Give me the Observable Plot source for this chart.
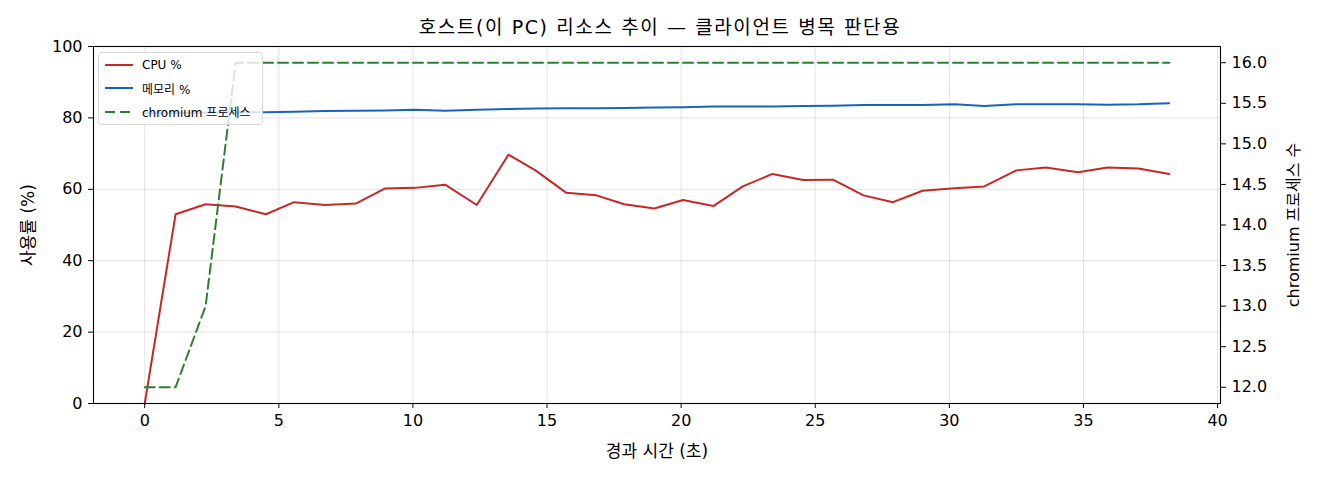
<!DOCTYPE html>
<html><head><meta charset="utf-8">
<script src="https://cdn.jsdelivr.net/npm/d3@7"></script>
<script src="https://cdn.jsdelivr.net/npm/@observablehq/plot@0.6"></script>
<style>
html,body{margin:0;padding:0;background:#fff;}
body{width:1320px;height:480px;position:relative;overflow:hidden;font-family:"DejaVu Sans","Noto Sans CJK KR",sans-serif;}
#title{position:absolute;left:0;top:15px;width:1320px;text-align:center;font-family:"DejaVu Sans","Noto Sans CJK KR",sans-serif;font-size:19px;line-height:24px;letter-spacing:1.6px;color:#000;white-space:nowrap;}
#chart{position:absolute;left:0;top:0;}
#legend{position:absolute;left:98px;top:52px;width:165px;height:73px;box-sizing:border-box;border:1px solid #d9d9d9;border-radius:4px;background:rgba(255,255,255,0.8);font-size:12px;color:#000;}
#legend .row{position:absolute;left:6px;height:16px;display:flex;align-items:center;white-space:nowrap;}
#legend svg{margin-right:9px;}
</style></head>
<body>
<div id="chart"></div>
<div id="title">호스트(이 PC) 리소스 추이 — 클라이언트 병목 판단용</div>
<div id="legend"></div>
<script>
const t = [0.0,1.15,2.27,3.39,4.52,5.57,6.72,7.87,8.95,10.07,11.2,12.38,13.56,14.57,15.72,16.84,17.88,19.0,20.07,21.2,22.3,23.4,24.55,25.66,26.8,27.9,29.0,30.2,31.3,32.5,33.6,34.8,35.9,37.05,38.2];
const cpu = [0,53.0,55.8,55.2,53.0,56.4,55.6,56.0,60.2,60.4,61.3,55.6,69.7,65.3,59.0,58.3,55.8,54.6,57.0,55.3,60.8,64.3,62.6,62.7,58.3,56.4,59.6,60.3,60.8,65.3,66.1,64.8,66.1,65.8,64.3];
const mem = [81.3,81.4,81.5,81.6,81.6,81.7,81.9,82.0,82.1,82.3,82.0,82.3,82.5,82.6,82.7,82.7,82.8,82.9,83.0,83.2,83.2,83.2,83.3,83.4,83.6,83.6,83.6,83.8,83.3,83.8,83.8,83.8,83.7,83.8,84.1];
const chrom = [12,12,13,16,16,16,16,16,16,16,16,16,16,16,16,16,16,16,16,16,16,16,16,16,16,16,16,16,16,16,16,16,16,16,16];
const xTicks = [0,5,10,15,20,25,30,35,40];
const yTicks = [0,20,40,60,80,100];
const y2Ticks = [12.0,12.5,13.0,13.5,14.0,14.5,15.0,15.5,16.0];
const seriesNames = ["CPU %","메모리 %","chromium 프로세스"];
const seriesColors = ["#c62828","#1565c0","#2e7d32"];
const xLabel = "경과 시간 (초)";
const yLabel = "사용률 (%)";
const y2Label = "chromium 프로세스 수";

const toLeft = d3.scaleLinear().domain([11.8,16.2]).range([0,100]);
const rows = t.map((v,i)=>({t:v,cpu:cpu[i],mem:mem[i],chrom:toLeft(chrom[i])}));
const font = '"DejaVu Sans","Noto Sans CJK KR",sans-serif';

const chart = Plot.plot({
  width:1320, height:480,
  marginLeft:93, marginRight:100, marginTop:46, marginBottom:77,
  x:{domain:[-1.91,40.11]},
  y:{domain:[0,100]},
  style:{fontFamily:font, fontSize:"16px", color:"#000", background:"white", overflow:"visible"},
  marks:[
    Plot.gridX(xTicks,{stroke:"#b0b0b0", strokeOpacity:0.35}),
    Plot.gridY(yTicks,{stroke:"#b0b0b0", strokeOpacity:0.35}),
    Plot.line(rows,{x:"t",y:"cpu",stroke:seriesColors[0],strokeWidth:2}),
    Plot.line(rows,{x:"t",y:"mem",stroke:seriesColors[1],strokeWidth:2}),
    Plot.line(rows,{x:"t",y:"chrom",stroke:seriesColors[2],strokeWidth:2,strokeDasharray:"10,5"}),
    Plot.frame({stroke:"#000",strokeWidth:1.1}),
    Plot.axisX(xTicks,{tickSize:5,tickPadding:6,label:null,tickFormat:d=>String(d)}),
    Plot.axisY(yTicks,{anchor:"left",tickSize:5,tickPadding:6,label:null,tickFormat:d=>String(d)}),
    Plot.axisY(y2Ticks.map(toLeft),{anchor:"right",tickSize:5,tickPadding:6,label:null,tickFormat:d=>toLeft.invert(d).toFixed(1)}),
    Plot.text([xLabel],{frameAnchor:"bottom",dy:48,lineAnchor:"middle",textAnchor:"middle",fontSize:17,text:d=>d}),
    Plot.text([yLabel],{frameAnchor:"left",dx:-65,rotate:-90,lineAnchor:"middle",textAnchor:"middle",fontSize:17,text:d=>d}),
    Plot.text([y2Label],{frameAnchor:"right",dx:73,rotate:-90,lineAnchor:"middle",textAnchor:"middle",fontSize:16,text:d=>d})
  ]
});
document.getElementById("chart").appendChild(chart);

const lg = document.getElementById("legend");
seriesNames.forEach((name,i)=>{
  const row = document.createElement("div");
  row.className = "row";
  row.style.top = (4 + i*23.3) + "px";
  const dash = i===2 ? ' stroke-dasharray="10,5"' : '';
  row.innerHTML = `<svg width="28" height="4"><line x1="0" y1="2" x2="28" y2="2" stroke="${seriesColors[i]}" stroke-width="2"${dash}/></svg><span>${name}</span>`;
  lg.appendChild(row);
});
</script>
</body></html>
